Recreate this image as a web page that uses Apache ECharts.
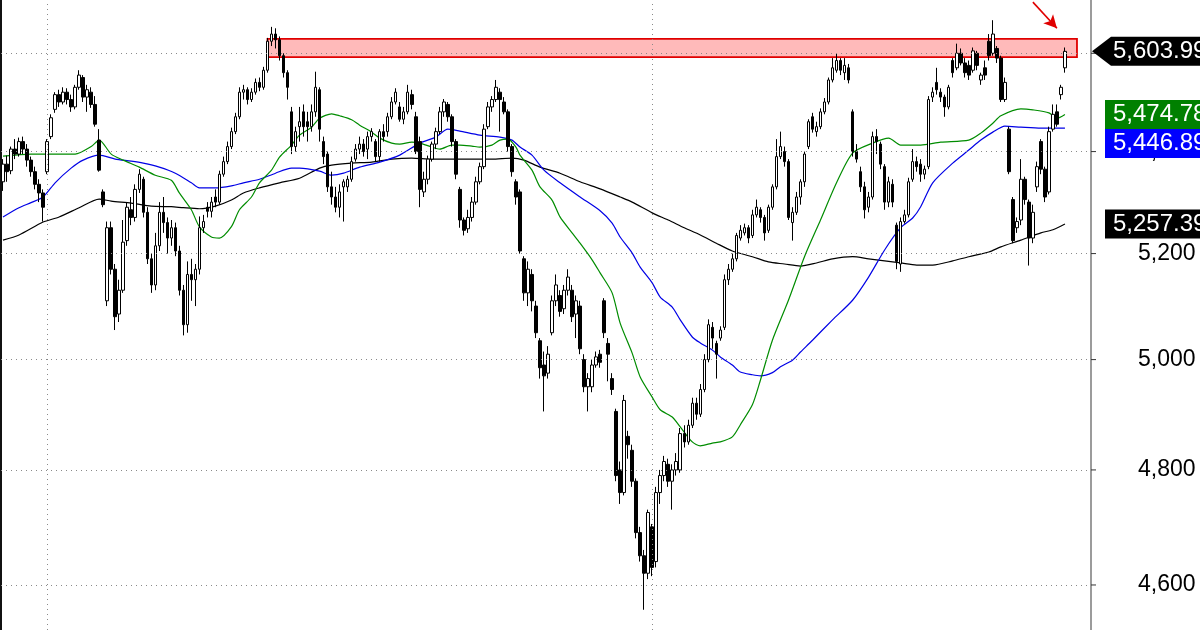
<!DOCTYPE html>
<html><head><meta charset="utf-8">
<script src="https://cdn.jsdelivr.net/npm/echarts@6/dist/echarts.min.js"></script>
<style>html,body{margin:0;padding:0;background:#fff}#c{width:1200px;height:630px}</style>
</head><body><div id="c"></div>
<script>
// ---- data (open, close, low, high) ----
const ohlc = [
[5340,5375,5322,5385],[5375,5360,5340,5392],[5362,5405,5355,5410],[5405,5395,5385,5425],[5395,5420,5390,5428],
[5420,5405,5395,5430],[5405,5383,5370,5415],[5383,5360,5350,5390],[5360,5335,5325,5370],[5335,5318,5300,5345],
[5318,5290,5262,5325],[5360,5420,5355,5425],[5430,5468,5425,5475],[5485,5515,5478,5520],[5515,5500,5490,5525],
[5500,5520,5495,5530],[5520,5505,5495,5528],[5505,5490,5480,5515],[5490,5530,5485,5535],[5530,5555,5525,5565],
[5550,5510,5500,5555],[5510,5525,5480,5535],[5520,5495,5488,5530],[5495,5455,5450,5512],[5423,5363,5360,5445],
[5320,5295,5290,5325],[5110,5250,5100,5262],[5250,5170,5160,5262],[5170,5080,5055,5180],[5085,5130,5070,5150],
[5130,5222,5125,5265],[5225,5290,5215,5300],[5285,5270,5255,5310],[5270,5325,5262,5335],[5325,5355,5318,5365],
[5345,5280,5270,5350],[5280,5190,5180,5290],[5190,5140,5125,5200],[5140,5215,5130,5240],[5215,5280,5205,5300],
[5280,5260,5240,5310],[5260,5230,5200,5270],[5230,5250,5215,5265],[5250,5205,5195,5260],[5205,5130,5120,5215],
[5130,5065,5045,5140],[5065,5160,5050,5185],[5160,5150,5110,5190],[5150,5170,5100,5180],[5170,5250,5160,5272],
[5250,5262,5240,5275],[5290,5282,5270,5300],[5282,5300,5270,5310],[5310,5300,5290,5325],[5300,5355,5295,5362],
[5355,5380,5350,5390],[5380,5410,5375,5420],[5410,5440,5405,5448],[5440,5470,5435,5478],[5470,5520,5465,5530],
[5520,5525,5505,5535],[5525,5505,5495,5530],[5505,5520,5500,5528],[5520,5540,5515,5548],[5540,5530,5522,5550],
[5530,5565,5525,5572],[5565,5625,5560,5632],[5625,5640,5615,5655],[5640,5628,5610,5652],[5628,5595,5585,5635],
[5595,5560,5550,5600],[5560,5530,5505,5565],[5480,5410,5395,5490],[5410,5440,5400,5450],[5450,5460,5420,5490],
[5480,5450,5430,5495],[5460,5450,5420,5480],[5450,5480,5440,5495],[5480,5530,5470,5562],[5525,5445,5420,5530],
[5420,5390,5375,5430],[5395,5330,5320,5400],[5330,5310,5295,5360],[5310,5290,5280,5330],[5290,5320,5270,5335],
[5330,5340,5262,5345],[5330,5345,5320,5352],[5345,5380,5340,5390],[5385,5405,5380,5415],[5405,5415,5395,5430],
[5415,5400,5390,5425],[5405,5430,5385,5440],[5430,5440,5420,5447],[5420,5390,5380,5425],[5390,5440,5380,5445],
[5440,5430,5420,5455],[5440,5470,5430,5478],[5470,5500,5465,5510],[5500,5520,5495,5528],[5490,5465,5460,5500],
[5465,5480,5455,5490],[5480,5520,5475,5535],[5515,5495,5485,5525],[5470,5400,5395,5480],[5420,5325,5290,5430],
[5320,5345,5310,5360],[5345,5385,5335,5392],[5385,5415,5380,5420],[5415,5440,5405,5448],[5440,5480,5435,5490],
[5480,5500,5470,5506],[5495,5470,5460,5500],[5470,5420,5410,5475],[5420,5355,5345,5425],[5325,5265,5250,5330],
[5265,5245,5235,5270],[5248,5270,5240,5285],[5270,5300,5262,5310],[5300,5340,5295,5350],[5340,5370,5335,5378],
[5370,5445,5365,5455],[5450,5490,5445,5500],[5490,5505,5480,5512],[5505,5530,5500,5545],[5520,5505,5440,5528],
[5500,5480,5475,5510],[5480,5410,5400,5485],[5410,5360,5350,5415],[5340,5310,5295,5345],[5320,5205,5200,5325],
[5190,5125,5110,5195],[5125,5170,5100,5185],[5160,5110,5090,5170],[5100,5050,5040,5110],[5035,4985,4965,5040],
[4990,4970,4905,5015],[4975,5010,4965,5025],[5050,5110,5045,5120],[5110,5140,5100,5160],[5120,5090,5080,5130],
[5095,5130,5085,5140],[5130,5155,5120,5170],[5130,5080,5070,5140],[5085,5110,5040,5120],[5100,5020,5010,5110],
[5000,4950,4940,5010],[4950,4965,4905,4975],[4950,4990,4940,5000],[4990,5005,4985,5015],[5010,4995,4985,5018],
[5110,5050,5040,5115],[5030,5010,4960,5040],[4965,4945,4935,4975],[4905,4790,4780,4910],[4800,4760,4740,4815],
[4760,4925,4755,4935],[4860,4845,4820,4870],[4835,4780,4770,4845],[4780,4690,4680,4785],[4690,4650,4640,4700],
[4650,4620,4558,4660],[4620,4725,4610,4730],[4700,4630,4615,4705],[4640,4760,4630,4770],[4760,4790,4740,4800],
[4790,4815,4780,4825],[4810,4780,4770,4820],[4780,4800,4730,4810],[4800,4815,4790,4830],[4800,4865,4795,4875],
[4865,4850,4840,4880],[4850,4880,4845,4890],[4880,4920,4875,4930],[4920,4900,4890,4930],[4900,4945,4895,4955],
[4945,5000,4940,5010],[5000,5065,4995,5075],[5060,5040,5020,5070],[5030,5010,4965,5035],[5040,5055,5035,5062],
[5060,5150,5055,5160],[5150,5170,5140,5180],[5170,5190,5165,5200],[5190,5235,5185,5240],[5230,5245,5225,5255],
[5240,5250,5235,5258],[5250,5230,5220,5255],[5235,5275,5230,5285],[5275,5290,5270,5305],[5285,5270,5260,5290],
[5270,5240,5225,5275],[5245,5290,5240,5295],[5290,5330,5285,5335],[5330,5390,5325,5425],[5390,5410,5385,5440],
[5400,5380,5370,5410],[5380,5270,5265,5385],[5260,5280,5225,5290],[5280,5310,5275,5320],[5310,5340,5295,5345],
[5340,5395,5330,5400],[5410,5460,5405,5465],[5470,5445,5438,5478],[5440,5450,5430,5460],[5450,5480,5445,5487],
[5480,5500,5475,5508],[5500,5545,5495,5550],[5545,5570,5540,5590],[5565,5585,5560,5600],[5585,5565,5555,5590],
[5560,5575,5545,5590],[5570,5545,5538,5578],[5480,5400,5390,5485],[5400,5385,5378,5415],[5360,5330,5320,5370],
[5330,5285,5268,5340],[5290,5310,5280,5320],[5310,5430,5305,5440],[5430,5420,5395,5445],[5415,5375,5365,5420],
[5370,5300,5285,5375],[5300,5340,5290,5350],[5335,5300,5290,5345],[5255,5185,5170,5260],[5180,5262,5165,5270],
[5262,5275,5258,5285],[5275,5340,5270,5348],[5345,5380,5340,5405],[5380,5370,5360,5390],[5375,5355,5340,5385],
[5355,5365,5345,5372],[5370,5505,5365,5512],[5510,5520,5500,5530],[5540,5525,5515,5570],[5520,5510,5500,5528],
[5510,5490,5470,5515],[5490,5530,5485,5535],[5585,5560,5550,5590],[5570,5600,5565,5620],[5600,5580,5575,5610],
[5580,5560,5550,5590],[5575,5555,5545,5585],[5565,5605,5560,5612],[5600,5575,5565,5605],[5545,5555,5535,5560],
[5570,5555,5545,5585],[5625,5595,5585,5640],[5600,5640,5595,5669],[5610,5590,5580,5615],[5590,5505,5500,5595],
[5505,5540,5500,5550],[5445,5360,5355,5450],[5305,5225,5220,5310],[5250,5262,5240,5270],[5265,5345,5255,5385],
[5345,5305,5295,5350],[5300,5230,5177,5305],[5230,5280,5220,5295],[5330,5370,5320,5380],[5420,5365,5355,5425],
[5365,5310,5300,5370],[5320,5440,5315,5450],[5445,5475,5440,5495],[5480,5455,5450,5495],[5515,5530,5505,5535],
[5570,5603.99,5560,5612]
];
// moving averages: [candle index, value]
const ma50 = [[0,5391],[7,5395],[18,5395],[22,5410],[24,5423],[27,5395],[30,5383],[34,5369],[38,5353],[42,5343],
[44,5318],[47,5285],[49,5252],[52,5232],[54,5230],[57,5252],[59,5285],[62,5310],[64,5338],[67,5363],[69,5389],
[72,5413],[74,5433],[77,5449],[79,5467],[82,5476],[84,5472],[87,5464],[89,5453],[92,5439],[94,5427],[97,5417],
[99,5415],[102,5419],[104,5417],[107,5409],[109,5405],[112,5413],[114,5413],[117,5411],[119,5409],[122,5413],
[124,5423],[126,5425],[128,5409],[129,5393],[132,5363],[134,5330],[137,5304],[139,5271],[142,5240],[144,5220],
[147,5188],[149,5163],[152,5125],[154,5068],[157,5012],[159,4968],[162,4931],[164,4908],[167,4895],[169,4877],
[172,4850],[174,4843],[177,4848],[179,4850],[182,4859],[184,4881],[187,4917],[189,4962],[192,5036],[196,5111],
[200,5194],[204,5265],[208,5338],[212,5397],[217,5417],[221,5427],[224,5413],[229,5413],[234,5419],[241,5423],
[244,5437],[247,5457],[249,5472],[254,5486],[257,5484],[261,5478],[263,5467],[265,5474.78]];
const ma100 = [[0,5271],[4,5289],[7,5299],[10,5310],[13,5338],[17,5367],[20,5383],[24,5393],[28,5385],[32,5381],
[35,5377],[39,5369],[43,5357],[47,5338],[49,5328],[53,5328],[57,5332],[60,5338],[64,5345],[68,5357],[72,5367],
[74,5367],[79,5361],[82,5353],[85,5357],[89,5369],[94,5379],[99,5393],[104,5417],[108,5429],[111,5445],[114,5441],
[119,5433],[124,5429],[127,5423],[129,5409],[132,5393],[135,5363],[139,5338],[144,5310],[149,5283],[152,5259],
[154,5232],[157,5201],[159,5174],[162,5144],[164,5117],[167,5098],[169,5074],[172,5042],[174,5031],[177,5018],
[179,5005],[182,4990],[184,4977],[187,4972],[189,4970],[192,4976],[194,4987],[197,4999],[199,5014],[202,5036],
[207,5074],[212,5111],[216,5155],[220,5207],[224,5250],[227,5269],[229,5291],[232,5338],[237,5377],[241,5403],
[244,5423],[247,5439],[250,5451],[254,5449],[259,5447],[262,5447],[265,5446.89]];
const ma200 = [[0,5226],[4,5236],[10,5261],[14,5271],[19,5289],[24,5306],[27,5302],[32,5298],[37,5292],[42,5291],
[45,5289],[49,5287],[53,5292],[57,5304],[60,5318],[64,5328],[69,5338],[74,5347],[79,5367],[82,5373],[87,5377],
[92,5379],[97,5385],[102,5387],[107,5385],[112,5385],[117,5385],[122,5385],[127,5387],[130,5383],[134,5369],
[139,5357],[144,5340],[149,5326],[154,5310],[157,5300],[162,5279],[166,5265],[170,5250],[174,5236],[178,5220],
[182,5205],[187,5194],[191,5184],[195,5180],[199,5176],[203,5182],[207,5190],[212,5194],[216,5190],[220,5186],
[224,5182],[228,5178],[232,5178],[237,5186],[241,5194],[246,5203],[249,5213],[254,5226],[259,5240],[262,5246],
[265,5257.39]];
const yTicks = [4600, 4800, 5000, 5200, 5400, 5600];
const dividers = [11, 162];
const zone = {from: 66, to: 268, low: 5592, high: 5630};
const arrowFrom = [257, 5707], arrowTo = [263, 5652];
const lastClose = 5603.99;
const slots = 272;

// ---- chart ----
const FONT = '"Liberation Sans", Arial, sans-serif';
const cats = Array.from({length: slots}, (_, i) => String(i));
const fmt = v => v.toLocaleString('en-US');
const fmt2 = v => v.toLocaleString('en-US', {minimumFractionDigits: 2, maximumFractionDigits: 2});
const yMin = 4524, yMax = 5711.5;
const chart = echarts.init(document.getElementById('c'), null, {renderer: 'canvas'});
const maLine = (name, data, color) => ({
  type: 'line', name, data, smooth: 0.25, showSymbol: false, symbol: 'none', z: 2, silent: true,
  lineStyle: {color, width: 1.2}
});
chart.setOption({
  animation: false,
  backgroundColor: '#fff',
  grid: {left: 1, right: 109, top: 0, bottom: 0},
  xAxis: {type: 'category', data: cats, boundaryGap: true,
    axisLine: {show: false}, axisTick: {show: false}, axisLabel: {show: false}, splitLine: {show: false}},
  yAxis: [
    {type: 'log', logBase: 10, min: yMin, max: yMax, position: 'right',
      axisLine: {show: true, lineStyle: {color: '#7a7a7a', width: 1.5}},
      axisTick: {show: false}, axisLabel: {show: false}, splitLine: {show: false}},
    {type: 'log', logBase: 10, min: yMin, max: yMax, position: 'left',
      axisLine: {show: true, lineStyle: {color: '#111', width: 2}},
      axisTick: {show: false}, axisLabel: {show: false}, splitLine: {show: false}}
  ],
  series: [
    {type: 'line', name: 'grid', data: [], z: 1, clip: false, silent: true,
      markLine: {silent: true, symbol: ['none', 'none'], animation: false,
        lineStyle: {type: [1, 4], color: '#8a8a8a', width: 1},
        label: {show: true, position: 'end', distance: 47, formatter: p => fmt(p.value),
          color: '#000', fontSize: 23, fontFamily: FONT},
        data: yTicks.map(v => ({yAxis: v}))
          .concat(dividers.map(i => ({xAxis: i, label: {show: false}})))
      }},
    maLine('MA200', ma200, '#000000'),
    maLine('MA100', ma100, '#0000e6'),
    maLine('MA50', ma50, '#008c00'),
    {type: 'candlestick', name: 'price', data: ohlc, barWidth: 3, z: 3, silent: true,
      itemStyle: {color: '#ffffff', color0: '#000000', borderColor: '#000000', borderColor0: '#000000', borderWidth: 1},
      markArea: {silent: true,
        itemStyle: {color: 'rgba(255,0,0,0.27)', borderColor: '#e00000', borderWidth: 1.8},
        data: [[{xAxis: zone.from, yAxis: zone.high}, {xAxis: zone.to, yAxis: zone.low}]]},
      markLine: {silent: true, symbol: ['none', 'arrow'], symbolSize: [10, 13],
        lineStyle: {color: '#e00000', width: 1.6, type: 'solid'}, label: {show: false},
        data: [[{coord: arrowFrom}, {coord: arrowTo}]]}
    }
  ]
});

// ---- value tags and axis ticks on the right ----
const axisX = 1091;
const toY = v => chart.convertToPixel({yAxisIndex: 0}, v);
const g = yTicks.map(v => ({type: 'line', z: 50, silent: true,
  shape: {x1: axisX, y1: toY(v), x2: axisX + 5, y2: toY(v)}, style: {stroke: '#333', lineWidth: 1}}));
const lastOf = arr => arr[arr.length - 1][1];
const tags = [
  {v: lastClose, color: '#000000', arrow: true},
  {v: lastOf(ma50), color: '#008000'},
  {v: lastOf(ma100), color: '#0000ff'},
  {v: lastOf(ma200), color: '#000000'}
].map(t => Object.assign(t, {y: toY(t.v)}))
 .sort((a, b) => a.y - b.y);
const H = 29;
for (let i = 1; i < tags.length; i++) {
  if (tags[i].y < tags[i - 1].y + H) tags[i].y = tags[i - 1].y + H;
}
tags.forEach(t => {
  const top = t.y - H / 2;
  if (t.arrow) {
    g.push({type: 'polygon', z: 100, shape: {points: [[axisX + 1, t.y], [axisX + 20, top], [1210, top], [1210, top + H], [axisX + 20, top + H]]},
      style: {fill: t.color}});
  } else {
    g.push({type: 'rect', z: 100, shape: {x: axisX + 14, y: top, width: 120, height: H}, style: {fill: t.color}});
  }
  g.push({type: 'text', z: 101, x: axisX + 22, y: t.y,
    style: {text: fmt2(t.v), fill: '#fff', font: '24px ' + FONT, textVerticalAlign: 'middle', verticalAlign: 'middle'}});
});
chart.setOption({graphic: g});
</script>
</body></html>
